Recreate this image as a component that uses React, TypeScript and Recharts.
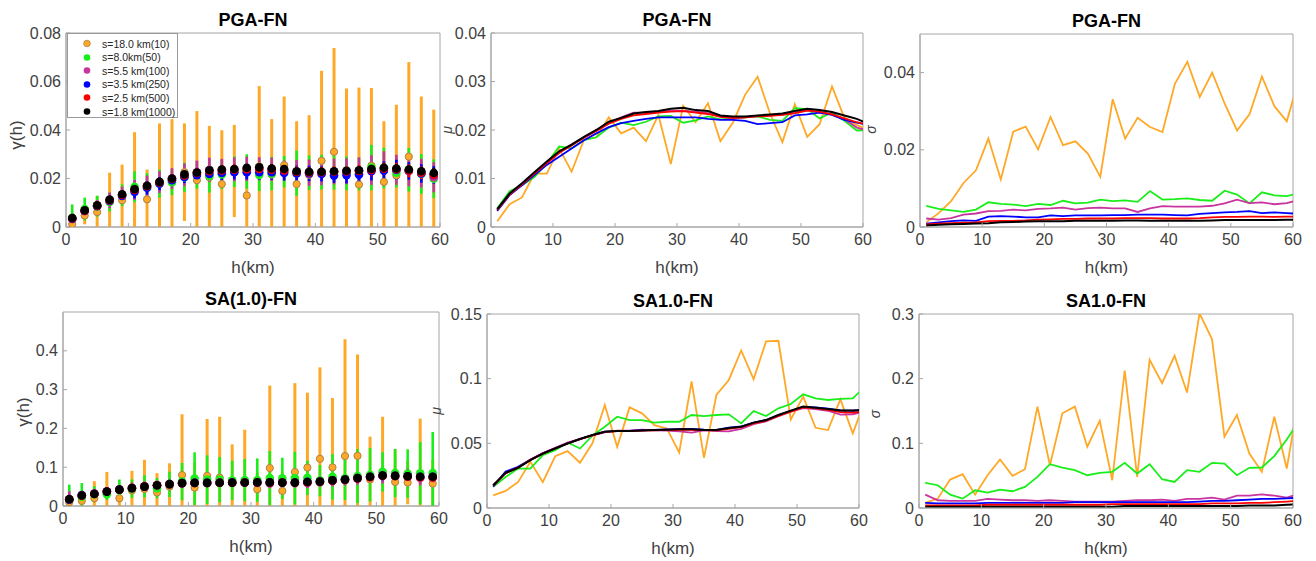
import React from "react";
import { LineChart, Line, ScatterChart, Scatter, ErrorBar, XAxis, YAxis, ReferenceArea, Legend } from "recharts";

// lag distance h (km), one value every 2 km; the last one sits just past the axis end
const hKm = [1, 3, 5, 7, 9, 11, 13, 15, 17, 19, 21, 23, 25, 27, 29, 31, 33, 35, 37, 39, 41, 43, 45, 47, 49, 51, 53, 55, 57, 59, 61];

const seriesNames = ["s=18.0 km(10)", "s=8.0km(50)", "s=5.5 km(100)", "s=3.5 km(250)", "s=2.5 km(500)", "s=1.8 km(1000)"];
const seriesKeys = ["k10", "k50", "k100", "k250", "k500", "k1000"];
const seriesColors = ["#ffa826", "#1aee1a", "#c8359f", "#0000ff", "#ff0000", "#000000"];

// PGA-FN mean (mu)
const pgaMu10 = [0.0012, 0.0047, 0.0061, 0.011, 0.011, 0.0162, 0.0114, 0.018, 0.0185, 0.0226, 0.0193, 0.0205, 0.0177, 0.0231, 0.013, 0.025, 0.0216, 0.0255, 0.0177, 0.0215, 0.0273, 0.031, 0.0234, 0.0175, 0.0253, 0.0186, 0.0212, 0.029, 0.0225, 0.021, 0.02];
const pgaMu50 = [0.0038, 0.0074, 0.0086, 0.0103, 0.0131, 0.0166, 0.0162, 0.0179, 0.0185, 0.0205, 0.0215, 0.021, 0.0217, 0.0228, 0.0229, 0.0215, 0.022, 0.0228, 0.0222, 0.0224, 0.0226, 0.0228, 0.0221, 0.0219, 0.0245, 0.0243, 0.0224, 0.0236, 0.0219, 0.0199, 0.02];
const pgaMu100 = [0.0035, 0.0066, 0.0088, 0.011, 0.0132, 0.0153, 0.017, 0.0185, 0.02, 0.0215, 0.0226, 0.0236, 0.0236, 0.0238, 0.024, 0.024, 0.0238, 0.0235, 0.0228, 0.0224, 0.0226, 0.0229, 0.023, 0.0232, 0.0235, 0.0241, 0.0236, 0.0232, 0.0222, 0.0205, 0.0198];
const pgaMu250 = [0.0033, 0.0066, 0.0086, 0.0107, 0.0128, 0.0145, 0.0162, 0.0179, 0.0193, 0.0206, 0.0214, 0.0219, 0.0223, 0.0226, 0.0226, 0.0226, 0.0226, 0.0223, 0.0221, 0.0221, 0.0219, 0.0212, 0.0214, 0.0216, 0.023, 0.0232, 0.0236, 0.0231, 0.0221, 0.0215, 0.021];
const pgaMu500 = [0.0035, 0.0067, 0.0088, 0.011, 0.0132, 0.0153, 0.0168, 0.0184, 0.0198, 0.0213, 0.0223, 0.023, 0.0233, 0.0236, 0.0238, 0.0239, 0.0236, 0.0233, 0.0227, 0.0225, 0.0226, 0.0228, 0.0229, 0.0231, 0.0235, 0.024, 0.0238, 0.0232, 0.0224, 0.0216, 0.021];
const pgaMu1000 = [0.0037, 0.0069, 0.009, 0.0113, 0.0135, 0.0156, 0.017, 0.0186, 0.02, 0.0217, 0.0225, 0.0234, 0.0237, 0.0239, 0.0244, 0.0246, 0.0241, 0.0239, 0.023, 0.0228, 0.0228, 0.023, 0.0232, 0.0234, 0.0239, 0.0244, 0.0241, 0.0237, 0.023, 0.0223, 0.0212];

// PGA-FN standard deviation (sigma)
const pgaSig10 = [0.0012, 0.0036, 0.0067, 0.0114, 0.0147, 0.0229, 0.0123, 0.0247, 0.026, 0.0201, 0.0285, 0.0212, 0.0222, 0.019, 0.013, 0.0331, 0.0229, 0.0283, 0.0259, 0.0246, 0.0371, 0.0428, 0.0337, 0.04, 0.032, 0.025, 0.0292, 0.039, 0.0313, 0.0274, 0.0386];
const pgaSig50 = [0.0055, 0.0047, 0.0043, 0.0039, 0.0045, 0.0064, 0.006, 0.0058, 0.0054, 0.006, 0.0057, 0.0068, 0.0061, 0.0063, 0.0071, 0.0067, 0.0069, 0.0065, 0.0093, 0.0071, 0.0072, 0.0074, 0.007, 0.0068, 0.0094, 0.0084, 0.0061, 0.009, 0.0082, 0.008, 0.0088];
const pgaSig100 = [0.0022, 0.0019, 0.0023, 0.0032, 0.0035, 0.0041, 0.0042, 0.0045, 0.0043, 0.0047, 0.0048, 0.005, 0.0045, 0.0049, 0.005, 0.0048, 0.0048, 0.0039, 0.0048, 0.0054, 0.0053, 0.0053, 0.0053, 0.0055, 0.0061, 0.0071, 0.0062, 0.0064, 0.0059, 0.0062, 0.007];
const pgaSig250 = [0.0009, 0.0012, 0.0015, 0.0017, 0.0016, 0.0027, 0.0028, 0.0027, 0.0025, 0.0025, 0.003, 0.0028, 0.003, 0.003, 0.003, 0.0031, 0.0031, 0.0032, 0.0032, 0.0032, 0.0031, 0.003, 0.0034, 0.0036, 0.0038, 0.0039, 0.0041, 0.0036, 0.0038, 0.0036, 0.0034];
const pgaSig500 = [0.0007, 0.0009, 0.001, 0.0011, 0.0012, 0.0015, 0.0016, 0.0016, 0.0017, 0.0019, 0.002, 0.0021, 0.0021, 0.0022, 0.0022, 0.0022, 0.0023, 0.0023, 0.0023, 0.0022, 0.0022, 0.0022, 0.0023, 0.0025, 0.0026, 0.0026, 0.0027, 0.0027, 0.0026, 0.0027, 0.0027];
const pgaSig1000 = [0.0004, 0.0006, 0.0007, 0.0008, 0.0009, 0.001, 0.0012, 0.0013, 0.0014, 0.0015, 0.0015, 0.0015, 0.0016, 0.0016, 0.0016, 0.0016, 0.0017, 0.0017, 0.0016, 0.0016, 0.0016, 0.0016, 0.0016, 0.0017, 0.0018, 0.0018, 0.0018, 0.0018, 0.0018, 0.0019, 0.0019];

// SA(1.0)-FN mean (mu)
const saMu10 = [0.0098, 0.0132, 0.02, 0.0357, 0.02, 0.04, 0.044, 0.035, 0.05, 0.0797, 0.0473, 0.0778, 0.0732, 0.0641, 0.0615, 0.0429, 0.0978, 0.0388, 0.0874, 0.099, 0.1218, 0.0996, 0.1288, 0.1293, 0.0685, 0.0861, 0.062, 0.0603, 0.084, 0.0577, 0.0835];
const saMu50 = [0.0163, 0.024, 0.0305, 0.0305, 0.0409, 0.0447, 0.0507, 0.046, 0.0559, 0.0628, 0.0706, 0.068, 0.068, 0.066, 0.0667, 0.0667, 0.0719, 0.0711, 0.0719, 0.0724, 0.0654, 0.075, 0.0711, 0.0771, 0.0804, 0.0879, 0.0848, 0.0835, 0.0843, 0.0848, 0.094];
const saMu100 = [0.0172, 0.0268, 0.0315, 0.0375, 0.0425, 0.0465, 0.0505, 0.0535, 0.0562, 0.0585, 0.0598, 0.0598, 0.0605, 0.06, 0.0598, 0.0592, 0.0583, 0.06, 0.0595, 0.0593, 0.0612, 0.0648, 0.067, 0.071, 0.0745, 0.0772, 0.0765, 0.0752, 0.0722, 0.0725, 0.0745];
const saMu250 = [0.0165, 0.0282, 0.0318, 0.0372, 0.0422, 0.0462, 0.05, 0.0533, 0.0563, 0.059, 0.0596, 0.0597, 0.0601, 0.0604, 0.0607, 0.061, 0.0612, 0.0605, 0.0604, 0.0622, 0.063, 0.066, 0.068, 0.0718, 0.0752, 0.0782, 0.0778, 0.0768, 0.0755, 0.0752, 0.076];
const saMu500 = [0.0174, 0.027, 0.0312, 0.0372, 0.042, 0.0462, 0.05, 0.0533, 0.0562, 0.0588, 0.0594, 0.0594, 0.0598, 0.0601, 0.0604, 0.0606, 0.0605, 0.0602, 0.06, 0.0612, 0.0625, 0.0655, 0.0675, 0.0712, 0.0745, 0.0778, 0.0772, 0.0758, 0.0742, 0.0738, 0.0745];
const saMu1000 = [0.0176, 0.0272, 0.031, 0.037, 0.0421, 0.046, 0.0499, 0.0533, 0.0564, 0.059, 0.0595, 0.0595, 0.06, 0.0603, 0.0605, 0.0608, 0.0608, 0.0603, 0.0603, 0.0618, 0.0628, 0.066, 0.068, 0.0719, 0.0753, 0.0784, 0.0776, 0.0765, 0.0753, 0.0753, 0.076];

// SA(1.0)-FN standard deviation (sigma)
const saSig10 = [0.0078, 0.0145, 0.044, 0.0522, 0.0207, 0.0507, 0.075, 0.0497, 0.06, 0.1567, 0.0662, 0.1464, 0.1567, 0.0947, 0.135, 0.0429, 0.2126, 0.0481, 0.2292, 0.193, 0.2354, 0.1785, 0.301, 0.2612, 0.1102, 0.1438, 0.0843, 0.0559, 0.1412, 0.061, 0.175];
const saSig50 = [0.0388, 0.0352, 0.0207, 0.0145, 0.0274, 0.0238, 0.0285, 0.0259, 0.0326, 0.0481, 0.0678, 0.0626, 0.0585, 0.0507, 0.0543, 0.0559, 0.0698, 0.0533, 0.0678, 0.0445, 0.0403, 0.0585, 0.0559, 0.0698, 0.0688, 0.0507, 0.0621, 0.0626, 0.0802, 0.106, 0.135];
const saSig100 = [0.0207, 0.012, 0.011, 0.011, 0.011, 0.014, 0.013, 0.012, 0.012, 0.011, 0.012, 0.011, 0.01, 0.01, 0.01, 0.01, 0.011, 0.012, 0.012, 0.013, 0.011, 0.014, 0.014, 0.016, 0.013, 0.019, 0.019, 0.021, 0.019, 0.016, 0.022];
const saSig250 = [0.008, 0.007, 0.007, 0.007, 0.007, 0.008, 0.008, 0.008, 0.008, 0.008, 0.008, 0.008, 0.009, 0.009, 0.009, 0.009, 0.009, 0.009, 0.009, 0.009, 0.009, 0.009, 0.01, 0.011, 0.011, 0.012, 0.013, 0.014, 0.014, 0.015, 0.016];
const saSig500 = [0.004, 0.004, 0.004, 0.004, 0.004, 0.005, 0.005, 0.005, 0.005, 0.005, 0.005, 0.005, 0.005, 0.005, 0.005, 0.006, 0.006, 0.006, 0.006, 0.006, 0.006, 0.006, 0.006, 0.007, 0.007, 0.007, 0.008, 0.008, 0.009, 0.01, 0.011];
const saSig1000 = [0.002, 0.002, 0.002, 0.002, 0.002, 0.002, 0.002, 0.002, 0.002, 0.002, 0.002, 0.002, 0.002, 0.002, 0.002, 0.002, 0.003, 0.003, 0.003, 0.003, 0.003, 0.003, 0.003, 0.003, 0.003, 0.003, 0.004, 0.004, 0.004, 0.005, 0.006];

const xTicks = [0, 10, 20, 30, 40, 50, 60];

const pgaMu = [pgaMu10, pgaMu50, pgaMu100, pgaMu250, pgaMu500, pgaMu1000];
const pgaSig = [pgaSig10, pgaSig50, pgaSig100, pgaSig250, pgaSig500, pgaSig1000];
const saMu = [saMu10, saMu50, saMu100, saMu250, saMu500, saMu1000];
const saSig = [saSig10, saSig50, saSig100, saSig250, saSig500, saSig1000];

const FONT = "'Liberation Sans', Arial, Helvetica, sans-serif";
const AXIS = "#a6a6a6";
const TXT = "#404040";
const EDGE = "#a98248";
const YW = 62;
const MT = 20;
const MR = 12;
const XH = 55;

type Rect = { l: number; t: number; r: number; b: number };

function table(cols: number[][]) {
  return hKm.map((h, i) => {
    const row: any = { h };
    seriesKeys.forEach((k, j) => (row[k] = cols[j][i]));
    return row;
  });
}

// mean +/- sigma, the lower whisker stops at zero
function points(mu: number[], sig: number[]) {
  return hKm
    .map((h, i) => ({ h, v: mu[i], err: [Math.min(sig[i], mu[i]), sig[i]] }))
    .filter((d) => d.h <= 60);
}

function box(rect: Rect) {
  return {
    left: rect.l - YW,
    top: rect.t - MT,
    width: rect.r - rect.l + YW + MR,
    height: rect.b - rect.t + MT + XH,
  };
}

function axes(yDomain: number[], yTicks: number[], yLabel: string, dx: number, dy: number, big: boolean) {
  return [
    <XAxis
      key="x"
      dataKey="h"
      type="number"
      domain={[0, 60]}
      ticks={xTicks}
      interval={0}
      allowDataOverflow
      height={XH}
      axisLine={{ stroke: AXIS }}
      tickLine={{ stroke: AXIS }}
      tickSize={-4}
      tickMargin={11}
      tick={{ fill: TXT, fontSize: 16, fontFamily: FONT }}
      label={{
        content: (p: any) => (
          <text x={p.viewBox.x + p.viewBox.width / 2} y={p.viewBox.y + 40} textAnchor="middle" dominantBaseline="central" fill={TXT} fontSize={17} fontFamily={FONT}>
            h(km)
          </text>
        ),
      }}
    />,
    <YAxis
      key="y"
      dataKey="v"
      type="number"
      domain={yDomain}
      ticks={yTicks}
      interval={0}
      allowDataOverflow
      width={YW}
      axisLine={{ stroke: AXIS }}
      tickLine={{ stroke: AXIS }}
      tickSize={-4}
      tickMargin={9}
      tick={{ fill: TXT, fontSize: 16, fontFamily: FONT }}
      label={{
        content: (p: any) => {
          const x = p.viewBox.x + p.viewBox.width + dx;
          const y = p.viewBox.y + p.viewBox.height / 2 + dy;
          return (
            <text x={x} y={y} transform={`rotate(-90 ${x} ${y})`} textAnchor="middle" dominantBaseline="central" fill={TXT} fontSize={big ? 17 : 14} fontStyle={big ? "normal" : "italic"} fontFamily={FONT}>
              {yLabel}
            </text>
          );
        },
      }}
    />,
    <ReferenceArea key="frame" x1={0} x2={60} y1={yDomain[0]} y2={yDomain[1]} fill="none" stroke={AXIS} strokeWidth={1} ifOverflow="visible" />,
  ];
}

function Title({ rect, text }: { rect: Rect; text: string }) {
  return (
    <div style={{ position: "absolute", left: rect.l, width: rect.r - rect.l, top: rect.t - 24, height: 22, lineHeight: "22px", textAlign: "center", fontFamily: FONT, fontWeight: "bold", fontSize: 18, color: "#000" }}>
      {text}
    </div>
  );
}

function LegendBox() {
  return (
    <div style={{ width: 111, height: 85, border: "1px solid #9a9a9a", background: "#fff", boxSizing: "border-box", position: "relative", fontFamily: FONT, fontSize: 10.5, color: "#262626" }}>
      {seriesNames.map((n, i) => (
        <div key={n} style={{ position: "absolute", left: 0, top: 3 + i * 13.6, height: 13, display: "flex", alignItems: "center", whiteSpace: "nowrap" }}>
          <svg width={34} height={13}>
            <circle cx={19} cy={6.5} r={3.3} fill={seriesColors[i]} stroke={i === 0 ? EDGE : "none"} strokeWidth={0.8} />
          </svg>
          <span>{n}</span>
        </div>
      ))}
    </div>
  );
}

function ErrPanel({ rect, title, mu, sig, yDomain, yTicks, labelDx, labelDy, legend }: any) {
  const b = box(rect);
  return (
    <>
      <Title rect={rect} text={title} />
      <div style={{ position: "absolute", left: b.left, top: b.top }}>
        <ScatterChart width={b.width} height={b.height} margin={{ top: MT, right: MR, bottom: 0, left: 0 }}>
          {axes(yDomain, yTicks, "γ(h)", labelDx, labelDy, true)}
          {seriesKeys.map((k, i) => (
            <Scatter
              key={k}
              name={seriesNames[i]}
              data={points(mu[i], sig[i])}
              fill={seriesColors[i]}
              isAnimationActive={false}
              shape={(p: any) => (
                <circle cx={p.cx} cy={p.cy} r={i === 0 ? 3.6 : 4.3} fill={seriesColors[i]} stroke={i === 0 ? EDGE : "none"} strokeWidth={1} />
              )}
            >
              <ErrorBar dataKey="err" direction="y" width={0} stroke={seriesColors[i]} strokeWidth={i === 0 ? 3 : 2.6} isAnimationActive={false} />
            </Scatter>
          ))}
          {legend && (
            <Legend
              layout="horizontal"
              verticalAlign="middle"
              align="center"
              content={() => <LegendBox />}
              wrapperStyle={{ position: "absolute", left: YW + 1, top: MT, width: 111, height: 85 }}
            />
          )}
        </ScatterChart>
      </div>
    </>
  );
}

function LinePanel({ rect, title, cols, yDomain, yTicks, yLabel, labelDx, labelDy }: any) {
  const b = box(rect);
  return (
    <>
      <Title rect={rect} text={title} />
      <div style={{ position: "absolute", left: b.left, top: b.top }}>
        <LineChart width={b.width} height={b.height} data={table(cols)} margin={{ top: MT, right: MR, bottom: 0, left: 0 }}>
          {axes(yDomain, yTicks, yLabel, labelDx, labelDy, false)}
          {seriesKeys.map((k, i) => (
            <Line key={k} type="linear" dataKey={k} stroke={seriesColors[i]} strokeWidth={i === 5 ? 2 : 1.8} dot={false} isAnimationActive={false} />
          ))}
        </LineChart>
      </div>
    </>
  );
}

export default function App() {
  return (
    <div style={{ position: "absolute", left: 0, top: 0, width: 1316, height: 561, background: "#fff", overflow: "hidden" }}>
      <ErrPanel rect={{ l: 66, t: 33, r: 440, b: 227 }} title="PGA-FN" mu={pgaMu} sig={pgaSig} yDomain={[0, 0.08]} yTicks={[0, 0.02, 0.04, 0.06, 0.08]} labelDx={-50} labelDy={5} legend />
      <LinePanel rect={{ l: 491, t: 33, r: 863, b: 227 }} title="PGA-FN" cols={pgaMu} yDomain={[0, 0.04]} yTicks={[0, 0.01, 0.02, 0.03, 0.04]} yLabel="μ" labelDx={-44} labelDy={0} />
      <LinePanel rect={{ l: 920, t: 34, r: 1293, b: 227 }} title="PGA-FN" cols={pgaSig} yDomain={[0, 0.05]} yTicks={[0, 0.02, 0.04]} yLabel="σ" labelDx={-49} labelDy={-1} />
      <ErrPanel rect={{ l: 63, t: 312, r: 439, b: 506 }} title="SA(1.0)-FN" mu={saMu} sig={saSig} yDomain={[0, 0.5]} yTicks={[0, 0.1, 0.2, 0.3, 0.4]} labelDx={-40} labelDy={3} legend={false} />
      <LinePanel rect={{ l: 487, t: 314, r: 859, b: 508 }} title="SA1.0-FN" cols={saMu} yDomain={[0, 0.15]} yTicks={[0, 0.05, 0.1, 0.15]} yLabel="μ" labelDx={-51} labelDy={0} />
      <LinePanel rect={{ l: 919, t: 314, r: 1293, b: 508 }} title="SA1.0-FN" cols={saSig} yDomain={[0, 0.3]} yTicks={[0, 0.1, 0.2, 0.3]} yLabel="σ" labelDx={-44} labelDy={3} />
    </div>
  );
}
